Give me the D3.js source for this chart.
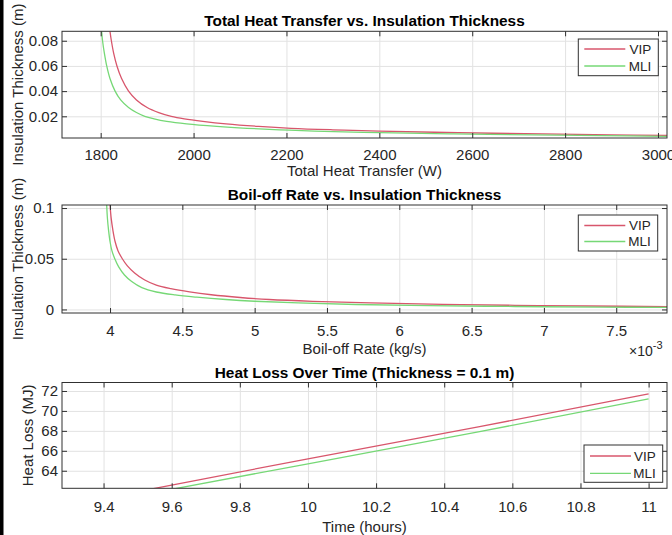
<!DOCTYPE html>
<html>
<head>
<meta charset="utf-8">
<script src="https://cdn.jsdelivr.net/npm/d3@7"></script>
<style>
  body { margin: 0; background: #fff; }
  svg { display: block; }
  text { font-family: "Liberation Sans", Arial, Helvetica, sans-serif; }
</style>
</head>
<body>
<svg id="fig" width="672" height="535"></svg>
<script>
// ── Data ──
const seriesNames = ['VIP', 'MLI'];

// Panel 1: total heat transfer (W) -> insulation thickness (m)
const vipHeat    = [1820, 1823, 1828, 1835, 1845, 1860, 1877, 1900, 1925, 1952, 1980, 2020, 2070, 2140, 2210, 2300, 2400, 2570, 2750, 2900, 3020];
const vipHeatThk = [0.0875, 0.080, 0.070, 0.060, 0.050, 0.040, 0.033, 0.027, 0.023, 0.020, 0.018, 0.016, 0.014, 0.012, 0.0105, 0.0093, 0.0083, 0.0070, 0.0060, 0.0053, 0.0048];
const mliHeat    = [1802, 1804, 1808, 1813, 1820, 1831, 1843, 1860, 1877, 1895, 1915, 1942, 1985, 2050, 2115, 2185, 2260, 2400, 2560, 2730, 2880, 3020];
const mliHeatThk = [0.0875, 0.080, 0.070, 0.060, 0.050, 0.040, 0.033, 0.027, 0.023, 0.020, 0.018, 0.016, 0.014, 0.012, 0.0105, 0.0093, 0.0083, 0.0070, 0.0060, 0.0052, 0.0046, 0.0041];

// Panel 2: boil-off rate (kg/s) -> insulation thickness (m)
const vipRate    = [0.004000, 0.004008, 0.004020, 0.004035, 0.004055, 0.004085, 0.00412, 0.00417, 0.00424, 0.00432, 0.00442, 0.00455, 0.00470, 0.00490, 0.00510, 0.00540, 0.00580, 0.00630, 0.00680, 0.00730, 0.00786];
const vipRateThk = [0.103, 0.090, 0.078, 0.067, 0.058, 0.050, 0.043, 0.036, 0.029, 0.024, 0.0205, 0.0173, 0.0145, 0.0118, 0.0098, 0.0080, 0.0064, 0.0051, 0.0041, 0.0034, 0.0028];
const mliRate    = [0.003977, 0.003982, 0.003990, 0.004000, 0.004013, 0.004033, 0.00406, 0.00410, 0.00415, 0.00422, 0.00432, 0.00445, 0.00460, 0.00480, 0.00500, 0.00530, 0.00570, 0.00620, 0.00680, 0.00740, 0.00786];
const mliRateThk = [0.103, 0.090, 0.078, 0.067, 0.058, 0.050, 0.042, 0.034, 0.0275, 0.0215, 0.0172, 0.0143, 0.0121, 0.0098, 0.0081, 0.0064, 0.0049, 0.0038, 0.0029, 0.0023, 0.0020];

// Panel 3: time (hours) -> heat loss (MJ)
const hours   = [9.5, 10, 10.5, 11];
const vipLoss = [61.9, 65.2, 68.4, 71.7];
const mliLoss = [61.5, 64.7, 67.9, 71.2];

// Tick values
const heatTicks  = [1800, 2000, 2200, 2400, 2600, 2800, 3000];
const thkTicks1  = [0.02, 0.04, 0.06, 0.08];
const rateTicks  = [0.004, 0.0045, 0.005, 0.0055, 0.006, 0.0065, 0.007, 0.0075];
const thkTicks2  = [0, 0.05, 0.1];
const hourTicks  = [9.4, 9.6, 9.8, 10, 10.2, 10.4, 10.6, 10.8, 11];
const lossTicks  = [64, 66, 68, 70, 72];

// ── Styling ──
const colors = { VIP: '#d8566c', MLI: '#76d876' };
const axisColor = '#303030';
const gridColor = '#e2e2e2';
const textColor = '#262626';
const L = 62, R = 667;

const zip = (a, b) => a.map((v, i) => [v, b[i]]);

const panels = [
  {
    title: 'Total Heat Transfer vs. Insulation Thickness',
    xLabel: 'Total Heat Transfer (W)', yLabel: 'Insulation Thickness (m)',
    top: 31.3, bottom: 138,
    xDomain: [1716.7, 3019.4], yDomain: [0.00278, 0.0875],
    xTicks: heatTicks, yTicks: thkTicks1,
    xFmt: d => d, yFmt: d => d3.format('.2f')(d),
    series: [zip(vipHeat, vipHeatThk), zip(mliHeat, mliHeatThk)],
    curve: d3.curveCatmullRom.alpha(0.5),
    titleY: 21, xLabelY: 171, xTickPad: 11, yTickEnd: 58, yLabelX: 18,
    legend: { x: 578.3, y: 39, w: 80, h: 36.7, rows: [49, 66] }
  },
  {
    title: 'Boil-off Rate vs. Insulation Thickness',
    xLabel: 'Boil-off Rate (kg/s)', yLabel: 'Insulation Thickness (m)',
    top: 205, bottom: 313,
    xDomain: [0.003668, 0.007851], yDomain: [-0.0035, 0.103],
    xTicks: rateTicks, yTicks: thkTicks2,
    xFmt: d => d3.format('~g')(+(d * 1000).toFixed(2)), yFmt: d => d3.format('~g')(d),
    series: [zip(vipRate, vipRateThk), zip(mliRate, mliRateThk)],
    curve: d3.curveCatmullRom.alpha(0.5),
    titleY: 195, xLabelY: 349, xTickPad: 12, yTickEnd: 54, yLabelX: 18,
    legend: { x: 578.3, y: 215, w: 79.4, h: 36, rows: [225.5, 241.5] },
    exponent: true
  },
  {
    title: 'Heat Loss Over Time (Thickness = 0.1 m)',
    xLabel: 'Time (hours)', yLabel: 'Heat Loss (MJ)',
    top: 382.5, bottom: 488.3,
    xDomain: [9.278, 11.054], yDomain: [62.24, 72.85],
    xTicks: hourTicks, yTicks: lossTicks,
    xFmt: d => d3.format('~g')(d), yFmt: d => d,
    series: [zip(hours, vipLoss), zip(hours, mliLoss)],
    curve: d3.curveLinear,
    titleY: 373, xLabelY: 527, xTickPad: 13.5, yTickEnd: 58, yLabelX: 28,
    legend: { x: 584, y: 445, w: 78.7, h: 37.3, rows: [456, 473.3] }
  }
];

const svg = d3.select('#fig');
svg.append('rect').attr('width', 672).attr('height', 535).attr('fill', '#fff');

panels.forEach((p, idx) => {
  const x = d3.scaleLinear().domain(p.xDomain).range([L, R]);
  const y = d3.scaleLinear().domain(p.yDomain).range([p.bottom, p.top]);
  const h = p.bottom - p.top, w = R - L;
  const g = svg.append('g');

  // Grid
  g.append('g').attr('class', 'grid').attr('transform', `translate(0,${p.bottom})`)
    .call(d3.axisBottom(x).tickValues(p.xTicks).tickSize(-h).tickFormat(''));
  g.append('g').attr('class', 'grid').attr('transform', `translate(${L},0)`)
    .call(d3.axisLeft(y).tickValues(p.yTicks).tickSize(-w).tickFormat(''));
  g.selectAll('.grid .domain').remove();
  g.selectAll('.grid line').attr('stroke', gridColor).attr('stroke-width', 1);

  // Clip + data lines
  const clipId = 'clip' + idx;
  g.append('clipPath').attr('id', clipId)
    .append('rect').attr('x', L).attr('y', p.top).attr('width', w).attr('height', h);
  const line = d3.line().x(d => x(d[0])).y(d => y(d[1])).curve(p.curve);
  g.append('g').attr('clip-path', `url(#${clipId})`)
    .selectAll('path').data(p.series).join('path')
    .attr('d', line)
    .attr('fill', 'none')
    .attr('stroke', (d, i) => colors[seriesNames[i]])
    .attr('stroke-width', 1.3);

  // Axes: ticks inside on all four sides
  const tick = 5;
  const ax = g.append('g').attr('class', 'axes');
  const bottomAx = ax.append('g').attr('transform', `translate(0,${p.bottom})`)
    .call(d3.axisBottom(x).tickValues(p.xTicks).tickSize(-tick).tickPadding(p.xTickPad).tickFormat(p.xFmt));
  const leftAx = ax.append('g').attr('transform', `translate(${L},0)`)
    .call(d3.axisLeft(y).tickValues(p.yTicks).tickSize(-tick).tickPadding(L - p.yTickEnd).tickFormat(p.yFmt));
  ax.append('g').attr('transform', `translate(0,${p.top})`)
    .call(d3.axisTop(x).tickValues(p.xTicks).tickSize(-tick).tickFormat(''));
  ax.append('g').attr('transform', `translate(${R},0)`)
    .call(d3.axisRight(y).tickValues(p.yTicks).tickSize(-tick).tickFormat(''));
  ax.selectAll('.domain').remove();
  ax.selectAll('.tick line').attr('stroke', axisColor);
  [bottomAx, leftAx].forEach(a => a.selectAll('text')
    .attr('fill', textColor).attr('font-size', '15px').attr('font-family', '"Liberation Sans", Arial, sans-serif'));

  // Box
  g.append('rect').attr('x', L).attr('y', p.top).attr('width', w).attr('height', h)
    .attr('fill', 'none').attr('stroke', axisColor).attr('stroke-width', 1);

  // Title and labels
  g.append('text').attr('x', (L + R) / 2).attr('y', p.titleY).attr('dy', '0.35em')
    .attr('text-anchor', 'middle').attr('font-size', '15.4px').attr('font-weight', 'bold')
    .attr('fill', '#000').text(p.title);
  g.append('text').attr('x', (L + R) / 2).attr('y', p.xLabelY).attr('dy', '0.35em')
    .attr('text-anchor', 'middle').attr('font-size', '15px').attr('fill', textColor).text(p.xLabel);
  g.append('text')
    .attr('transform', `translate(${p.yLabelX},${(p.top + p.bottom) / 2}) rotate(-90)`)
    .attr('dy', '0.35em').attr('text-anchor', 'middle').attr('font-size', '15px')
    .attr('fill', textColor).text(p.yLabel);

  if (p.exponent) {
    const t = g.append('text').attr('x', 629).attr('y', 356)
      .attr('font-size', '14px').attr('fill', textColor);
    t.append('tspan').text('\u00d710');
    t.append('tspan').attr('dy', -7).attr('font-size', '11px').text('-3');
  }

  // Legend
  const lg = p.legend;
  const leg = g.append('g');
  leg.append('rect').attr('x', lg.x).attr('y', lg.y).attr('width', lg.w).attr('height', lg.h)
    .attr('fill', '#fff').attr('stroke', axisColor).attr('stroke-width', 1);
  seriesNames.forEach((name, i) => {
    leg.append('line')
      .attr('x1', lg.x + 6).attr('x2', lg.x + 47)
      .attr('y1', lg.rows[i]).attr('y2', lg.rows[i])
      .attr('stroke', colors[name]).attr('stroke-width', 1.3);
    leg.append('text').attr('x', lg.x + lg.w - 7).attr('y', lg.rows[i]).attr('dy', '0.35em')
      .attr('text-anchor', 'end').attr('font-size', '13.5px').attr('fill', textColor).text(name);
  });
});

// Left border strip seen in the figure
svg.append('rect').attr('x', 0).attr('y', 0).attr('width', 3.5).attr('height', 535).attr('fill', '#000');
</script>
</body>
</html>
